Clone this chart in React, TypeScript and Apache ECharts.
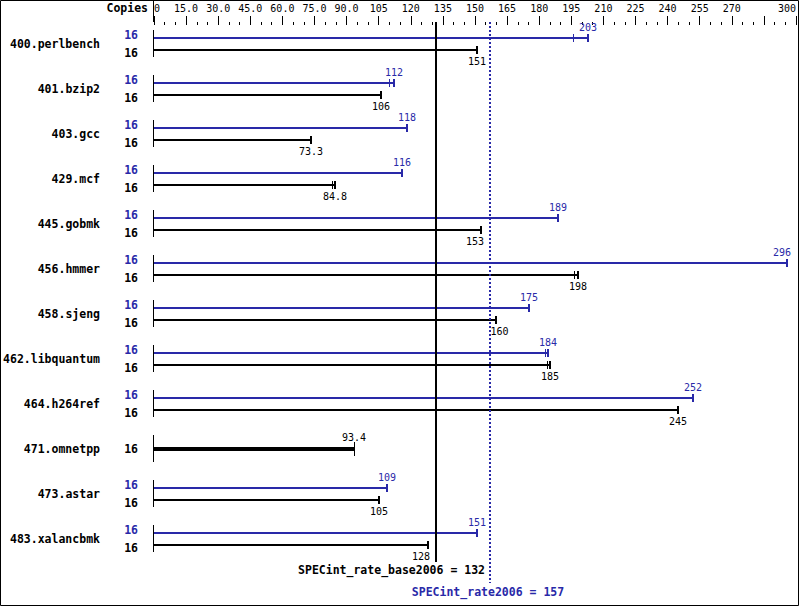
import React, { useEffect, useRef } from "react";
import * as echarts from "echarts";

const benchmarks = [
  "400.perlbench",
  "401.bzip2",
  "403.gcc",
  "429.mcf",
  "445.gobmk",
  "456.hmmer",
  "458.sjeng",
  "462.libquantum",
  "464.h264ref",
  "471.omnetpp",
  "473.astar",
  "483.xalancbmk",
];
const copiesPeak = [16, 16, 16, 16, 16, 16, 16, 16, 16, null, 16, 16];
const copiesBase = [16, 16, 16, 16, 16, 16, 16, 16, 16, 16, 16, 16];
const peakValues = [203, 112, 118, 116, 189, 296, 175, 184, 252, null, 109, 151];
const baseValues = [151, 106, 73.3, 84.8, 153, 198, 160, 185, 245, 93.4, 105, 128];
const peakRunLow = [196, 110, null, null, null, null, null, 182.5, null, null, null, null];
const baseRunLow = [null, null, null, 83.2, null, 196.3, null, 183.5, null, null, null, null];
const axisMax = 300;
const axisInterval = 15;
const baseScore = 132;
const peakScore = 157;
const baseScoreLabel = "SPECint_rate_base2006 = 132";
const peakScoreLabel = "SPECint_rate2006 = 157";

const BLUE = "#2929a8";
const MONO = '"DejaVu Sans Mono", "Liberation Mono", monospace';
const BOLD = `bold 11.5px ${MONO}`;
const NORM = `10px ${MONO}`;
const CHAR_W = 6.02;

function ln(x1: number, y1: number, x2: number, y2: number, color: string, w: number, dash?: number[]) {
  return {
    type: "line",
    shape: { x1, y1, x2, y2 },
    style: { stroke: color, lineWidth: w, lineDash: dash },
  };
}
function txt(text: string, x: number, y: number, font: string, color: string, align: string) {
  return {
    type: "text",
    style: {
      text,
      x,
      y,
      font,
      fill: color,
      align,
      textAlign: align,
      verticalAlign: "middle",
      textVerticalAlign: "middle",
    },
  };
}

// value label x, shifted away from the score lines and kept inside the frame
function labelX(text: string, xc: number, avoid: number[]): number {
  const half = (text.length * CHAR_W) / 2;
  let x = xc;
  for (const lx of avoid) {
    if (x - half <= lx + 1 && x + half >= lx - 1) {
      if (x > lx + 3) x = lx + 0.5 + half;
      else x = lx - 6 - half;
    }
  }
  if (x + half > 791) x = 791 - half;
  return x;
}

const renderItem = (params: any, api: any) => {
  const i = params.dataIndex;
  const p0 = api.coord([0, i]);
  const x0 = Math.round(p0[0]);
  const c = p0[1];
  const X = (v: number) => Math.round(api.coord([v, i])[0]);
  const scoreXs = [X(baseScore), X(peakScore)];
  const children: any[] = [];
  children.push(ln(x0 - 0.5, c - 13.5, x0 - 0.5, c + 13.5, "#000", 1));
  const pk = peakValues[i];
  const bs = baseValues[i];
  if (pk != null) {
    const y = c - 5.5;
    const xe = X(pk);
    children.push(ln(x0, y, xe, y, BLUE, 2));
    children.push(ln(xe, y - 4, xe, y + 4, BLUE, 2));
    const lo = peakRunLow[i];
    if (lo != null) {
      const xl = X(lo) + 0.5;
      children.push(ln(xl, y - 4, xl, y + 4, BLUE, 1));
    }
    const pt = String(pk);
    children.push(txt(pt, labelX(pt, xe, []), y - 11, NORM, BLUE, "center"));
    children.push(txt(String(copiesPeak[i]), x0 - 16, c - 9, BOLD, BLUE, "right"));

    const yb = c + 6.5;
    const xb = X(bs);
    children.push(ln(x0, yb, xb, yb, "#000", 2));
    children.push(ln(xb, yb - 4, xb, yb + 4, "#000", 2));
    const blo = baseRunLow[i];
    if (blo != null) {
      const xl = X(blo) + 0.5;
      children.push(ln(xl, yb - 4, xl, yb + 4, "#000", 1));
    }
    const bt = String(bs);
    children.push(txt(bt, labelX(bt, xb, scoreXs), yb + 11, NORM, "#000", "center"));
    children.push(txt(String(copiesBase[i]), x0 - 16, c + 9, BOLD, "#000", "right"));
  } else {
    const y = c + 0.5;
    const xb = X(bs);
    children.push(ln(x0, y, xb, y, "#000", 4));
    children.push(ln(xb + 0.5, c - 6.5, xb + 0.5, c + 7.5, "#000", 1));
    children.push(txt(String(bs), xb, c - 11.5, NORM, "#000", "center"));
    children.push(txt(String(copiesBase[i]), x0 - 16, c, BOLD, "#000", "right"));
  }
  return { type: "group", children };
};

export default function App() {
  const ref = useRef<HTMLDivElement>(null);
  useEffect(() => {
    document.body.style.margin = "0";
    const chart = echarts.init(ref.current!, null, { renderer: "svg" });
    chart.setOption({
      animation: false,
      backgroundColor: "#fff",
      grid: { left: 154, right: 3, top: 21, height: 540, containLabel: false },
      xAxis: {
        type: "value",
        position: "top",
        offset: -4,
        min: 0,
        max: axisMax,
        interval: axisInterval,
        axisLine: { show: false },
        axisTick: { show: true, length: 9, lineStyle: { color: "#000", width: 1 } },
        minorTick: { show: true, splitNumber: 3, length: 3, lineStyle: { color: "#000", width: 1 } },
        splitLine: { show: false },
        axisLabel: {
          margin: 12,
          fontFamily: MONO,
          fontSize: 10,
          color: "#000",
          alignMinLabel: "left",
          alignMaxLabel: "right",
          formatter: (v: number) => {
            if (v === 0) return "0";
            if (v === 285) return "";
            return v < 100 ? v.toFixed(1) : String(v);
          },
        },
      },
      yAxis: {
        type: "category",
        data: benchmarks,
        inverse: true,
        axisLine: { show: false },
        axisTick: { show: false },
        splitLine: { show: false },
        axisLabel: {
          margin: 54,
          fontFamily: MONO,
          fontSize: 11.5,
          fontWeight: "bold",
          color: "#000",
        },
      },
      series: [
        {
          type: "custom",
          clip: false,
          renderItem,
          encode: { x: 0, y: 1 },
          data: benchmarks.map((_, i) => [baseValues[i], i]),
        },
      ],
    });
    const xb = Math.round(chart.convertToPixel({ xAxisIndex: 0 }, baseScore) as number);
    const xp = Math.round(chart.convertToPixel({ xAxisIndex: 0 }, peakScore) as number);
    chart.setOption({
      graphic: [
        { ...ln(153.5, 0, 153.5, 22, "#000", 1), z: 10 },
        { ...txt("Copies", 148, 8, BOLD, "#000", "right"), z: 10 },
        { ...ln(xb, 22, xb, 562, "#000", 2), z: 10 },
        { ...ln(xp, 22, xp, 583, BLUE, 2, [2, 2]), z: 10 },
        { ...txt(baseScoreLabel, xp - 5, 570, BOLD, "#000", "right"), z: 10 },
        { ...txt(peakScoreLabel, xp - 2, 591.5, BOLD, BLUE, "center"), z: 10 },
        {
          type: "rect",
          shape: { x: 0.5, y: 0.5, width: 798, height: 605 },
          style: { fill: "none", stroke: "#000", lineWidth: 1 },
          z: 10,
        },
      ],
    });
    return () => chart.dispose();
  }, []);
  return <div ref={ref} style={{ width: 799, height: 606 }} />;
}
